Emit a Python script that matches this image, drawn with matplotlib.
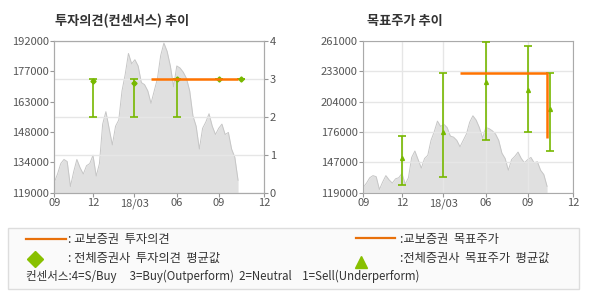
import numpy as np
import pandas as pd
import matplotlib
matplotlib.use('Agg')
import matplotlib.pyplot as plt
from matplotlib.lines import Line2D
from matplotlib.patches import Rectangle

plt.rcParams['font.family'] = ['Noto Sans CJK KR', 'DejaVu Sans']

# price history (weekly closes)
price_dates = pd.date_range('2017-09-08', periods=58, freq='7D')
prices = [124000, 128000, 133000, 135000, 134000, 122000, 129000, 135000, 131000, 128000,
          132000, 133000, 137000, 127000, 133000, 152000, 158000, 150000, 142000, 151000,
          154000, 168000, 176000, 186000, 181000, 183000, 180000, 172000, 171000, 168000,
          162000, 168000, 174000, 185000, 191000, 187000, 180000, 170000, 180000, 179000,
          177000, 174000, 168000, 156000, 151000, 140000, 150000, 153000, 157000, 151000,
          147000, 150000, 152000, 147000, 148000, 140000, 136000, 125000]

# consensus (all brokers)
cons_dates = pd.to_datetime(['2017-12-01', '2018-03-01', '2018-06-01', '2018-09-01', '2018-10-18'])
op_avg = np.array([2.94, 2.88, 3.0, 3.0, 3.0])
op_min = np.array([2, 2, 2, 3, 3])
op_max = np.array([3, 3, 3, 3, 3])
tp_avg = np.array([151700, 176000, 223000, 215000, 197000])
tp_min = np.array([126000, 134000, 168000, 176000, 158000])
tp_max = np.array([172000, 231000, 260000, 256000, 231000])

# 교보증권
kb_op_dates = pd.to_datetime(['2018-04-05', '2018-10-12'])
kb_op = [3, 3]
kb_tp_dates = pd.to_datetime(['2018-04-05', '2018-10-12', '2018-10-12'])
kb_tp = [231000, 231000, 170000]

x_start, x_end = pd.Timestamp('2017-09-08'), pd.Timestamp('2018-12-08')
xticks = [x_start, pd.Timestamp('2017-12-01'), pd.Timestamp('2018-03-01'),
          pd.Timestamp('2018-06-01'), pd.Timestamp('2018-09-01'), x_end]
xlabels = ['09', '12', '18/03', '06', '09', '12']

W, H = 590, 300
fig = plt.figure(figsize=(W / 100, H / 100), dpi=100)

GREEN = '#77b800'
ORANGE = '#ff7300'
SPINE = '#aaaaaa'
GRID = '#e6e6e6'


def style(ax):
    for s in ax.spines.values():
        s.set_color(SPINE)
    ax.tick_params(colors='#999999', labelcolor='#555555', labelsize=8, length=3, pad=1)


def price_area(ax):
    ax.fill_between(price_dates, prices, 119000, color='#e0e0e0', lw=0, zorder=1)
    ax.plot(price_dates, prices, color='#c6c6c6', lw=0.7, zorder=1.2)
    ax.set_xlim(x_start, x_end)
    ax.set_xticks(xticks)
    ax.set_xticklabels(xlabels)


# ---- left: 투자의견 ----
ax1 = fig.add_axes([54.3 / W, 1 - 192.7 / H, 210 / W, 151.7 / H])
price_area(ax1)
ax1.set_ylim(119000, 192000)
ax1.set_yticks(np.linspace(119000, 192000, 6))
ax1.set_yticklabels(['119000', '134000', '148000', '163000', '177000', '192000'])
style(ax1)

ax2 = ax1.twinx()
ax2.set_ylim(0, 4)
ax2.set_yticks([0, 1, 2, 3, 4])
ax2.set_axisbelow(True)
ax2.grid(True, color=GRID, lw=1)
ax2.errorbar(cons_dates, op_avg, yerr=[op_avg - op_min, op_max - op_avg], fmt='none',
             ecolor=GREEN, elinewidth=1.2, capsize=3, capthick=1.2, zorder=3)
ax2.plot(cons_dates, op_avg, 'D', color=GREEN, ms=2.6, zorder=3)
ax2.plot(kb_op_dates, kb_op, color=ORANGE, lw=1.8, zorder=4, solid_capstyle='butt')
style(ax2)

# ---- right: 목표주가 ----
ax3 = fig.add_axes([363.3 / W, 1 - 192.7 / H, 210 / W, 151.7 / H])
price_area(ax3)
ax3.set_ylim(119000, 261000)
ax3.set_yticks(np.linspace(119000, 261000, 6))
ax3.set_yticklabels(['119000', '147000', '176000', '204000', '233000', '261000'])
ax3.grid(True, color=GRID, lw=1, zorder=1.5)
ax3.errorbar(cons_dates, tp_avg, yerr=[tp_avg - tp_min, tp_max - tp_avg], fmt='none',
             ecolor=GREEN, elinewidth=1.2, capsize=3, capthick=1.2, zorder=3)
ax3.plot(cons_dates, tp_avg, '^', color=GREEN, ms=2.8, zorder=3)
ax3.plot(kb_tp_dates, kb_tp, color=ORANGE, lw=1.8, zorder=4, solid_capstyle='butt')
style(ax3)

# titles
fig.text(55 / W, 1 - 20.5 / H, '투자의견(컨센서스) 추이', fontsize=9.5, fontweight='bold',
         color='#333333', va='center')
fig.text(367 / W, 1 - 20.5 / H, '목표주가 추이', fontsize=9.5, fontweight='bold',
         color='#333333', va='center')

# legend box
fig.patches.append(Rectangle((8.3 / W, 1 - 289 / H), (579 - 8.3) / W, (289 - 228) / H,
                             transform=fig.transFigure, facecolor='#fafafa',
                             edgecolor='#dddddd', lw=1))


def fy(y):
    return 1 - y / H


fig.lines.append(Line2D([26 / W, 66 / W], [fy(239), fy(239)], transform=fig.transFigure,
                        color='#e8700a', lw=1.6))
fig.lines.append(Line2D([356 / W, 395 / W], [fy(238), fy(238)], transform=fig.transFigure,
                        color='#e8700a', lw=1.6))
fig.lines.append(Line2D([35 / W], [fy(259)], transform=fig.transFigure, marker='D',
                        color='#88c000', ms=8.5, lw=0))
fig.lines.append(Line2D([361 / W], [fy(262)], transform=fig.transFigure, marker='^',
                        color='#88c000', ms=8, lw=0))

leg_kw = dict(fontsize=8.8, color='#333333', va='center')
fig.text(68 / W, fy(240), ': 교보증권  투자의견', **leg_kw)
fig.text(68 / W, fy(258), ': 전체증권사  투자의견  평균값', **leg_kw)
fig.text(400 / W, fy(239), ':교보증권  목표주가', **leg_kw)
fig.text(400 / W, fy(258), ':전체증권사  목표주가  평균값', **leg_kw)
fig.text(26 / W, fy(276), '컨센서스:4=S/Buy     3=Buy(Outperform)  2=Neutral    1=Sell(Underperform)',
         fontsize=8.3, color='#333333', va='center')

fig.savefig('out.png', dpi=100)
